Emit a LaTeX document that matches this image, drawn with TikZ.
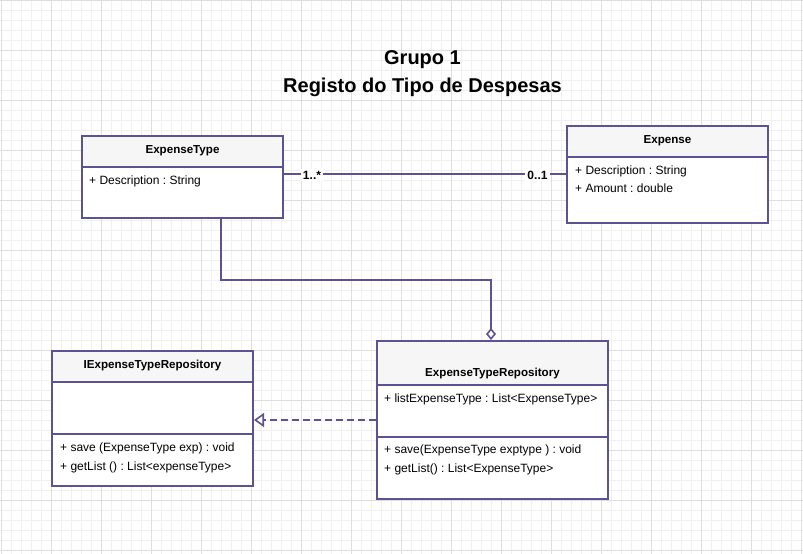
\documentclass[tikz,border=0pt]{standalone}
\usepackage{fontspec}
\setmainfont{Liberation Sans}
\frenchspacing
\usetikzlibrary{arrows.meta,calc}
\definecolor{umlline}{RGB}{90,84,148}
\definecolor{hdrfill}{RGB}{246,246,246}
\definecolor{gridfine}{RGB}{240,240,240}
\definecolor{gridmajor}{RGB}{222,222,222}
\tikzset{
  classbox/.style={draw=umlline, line width=2pt, rectangle, inner sep=0pt},
  hdr/.style={fill=hdrfill},
  divider/.style={draw=umlline, line width=2pt},
  cname/.style={anchor=base, font=\fontsize{11.6}{13}\selectfont\bfseries, inner sep=0pt},
  member/.style={anchor=base west, font=\fontsize{12}{14}\selectfont, inner sep=0pt},
  mult/.style={font=\fontsize{12}{14}\selectfont\bfseries, fill=white, inner sep=2pt},
  assoc/.style={draw=umlline, line width=2pt},
  titletext/.style={anchor=base, font=\fontsize{20}{24}\selectfont\bfseries, inner sep=0pt},
}
\begin{document}
\begin{tikzpicture}[x=1pt,y=-1pt]
\useasboundingbox (0,0) rectangle (803,554);
\fill[white] (0,0) rectangle (803,554);
% grid
\foreach \i in {0,...,80} {
  \draw[gridfine, line width=0.6pt] ({1.5+10*\i},0) -- ({1.5+10*\i},554);
}
\foreach \i in {0,...,55} {
  \draw[gridfine, line width=0.6pt] (0,{0.5+10*\i}) -- (803,{0.5+10*\i});
}
\foreach \i in {0,...,16} {
  \draw[gridmajor, line width=0.7pt] ({1.5+50*\i},0) -- ({1.5+50*\i},554);
}
\foreach \i in {0,...,11} {
  \draw[gridmajor, line width=0.7pt] (0,{0.5+50*\i}) -- (803,{0.5+50*\i});
}

% title
\node[titletext] (title1) at (422.5,64) {Grupo 1};
\node[titletext] (title2) at (422.5,92) {Registo do Tipo de Despesas};

% ExpenseType
\fill[hdr] (82,136) rectangle (283,167);
\fill[white] (82,167) rectangle (283,218);
\node[classbox, minimum width=201pt, minimum height=82pt] (et) at (182.5,177) {};
\draw[divider] (82,167) -- (283,167);
\node[cname] (etn) at (182.5,153) {ExpenseType};
\node[member] (eta) at (89,184) {+ Description : String};

% Expense
\fill[hdr] (567,126) rectangle (768,157);
\fill[white] (567,157) rectangle (768,222.7);
\node[classbox, minimum width=201pt, minimum height=96.7pt] (ex) at (667.5,174.35) {};
\draw[divider] (567,157) -- (768,157);
\node[cname] (exn) at (667.5,143.3) {Expense};
\node[member] (exa1) at (575,174) {+ Description : String};
\node[member] (exa2) at (575,192.7) {+ Amount : double};

% IExpenseTypeRepository
\fill[hdr] (52,351) rectangle (253,382);
\fill[white] (52,382) rectangle (253,486);
\node[classbox, minimum width=201pt, minimum height=135pt] (ie) at (152.5,418.5) {};
\draw[divider] (52,382) -- (253,382);
\draw[divider] (52,434) -- (253,434);
\node[cname] (ien) at (152.5,368.3) {IExpenseTypeRepository};
\node[member] (iem1) at (60,451.7) {+ save (ExpenseType exp) : void};
\node[member] (iem2) at (60,470.7) {+ getList () : List<expenseType>};

% ExpenseTypeRepository
\fill[hdr] (377,341) rectangle (608,385);
\fill[white] (377,385) rectangle (608,499);
\node[classbox, minimum width=231pt, minimum height=158pt] (etr) at (492.5,420) {};
\draw[divider] (377,385) -- (608,385);
\draw[divider] (377,437) -- (608,437);
\node[cname] (etrn) at (492.5,376.7) {ExpenseTypeRepository};
\node[member] (etra) at (384,402.7) {+ listExpenseType : List<ExpenseType>};
\node[member] (etrm1) at (384,453.7) {+ save(ExpenseType exptype ) : void};
\node[member] (etrm2) at (384,472.7) {+ getList() : List<ExpenseType>};

% association ExpenseType -- Expense
\draw[assoc] (ex.west -| et.east) -- (ex.west);
\node[mult] (m1) at (312,175) {1..*};
\node[mult] (m2) at (537.5,175) {0..1};

% aggregation
\coordinate (bend) at (491,280);
\draw[assoc, -{Diamond[fill=white, length=12pt, width=10pt, line width=1.6pt]}]
  ([xshift=38.5pt]et.south) |- (bend) -- (bend |- etr.north);

% realization
\draw[assoc, dash pattern=on 7pt off 4pt, -{Triangle[fill=white, length=10pt, width=14pt, line width=1.6pt, sep=0pt]}]
  (etr.west) -- (etr.west -| ie.east);
\end{tikzpicture}
\end{document}
